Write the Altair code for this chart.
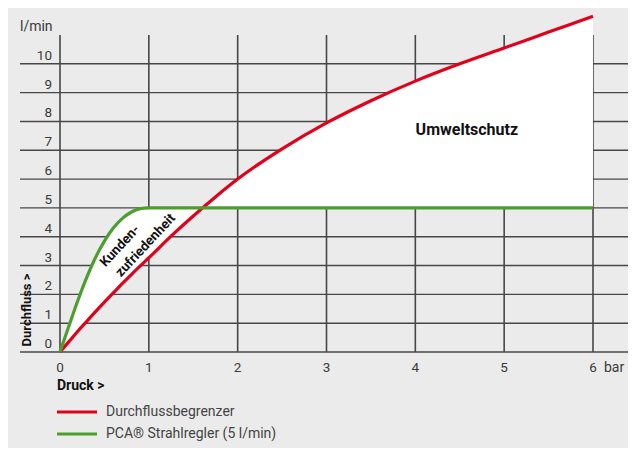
import altair as alt
import pandas as pd

# ---- data ----
PRESSURE = [0, 0.1, 0.2, 0.3, 0.4, 0.5, 0.6, 0.7, 0.8, 0.9, 1.0, 1.25, 1.5, 1.75,
            2.0, 2.5, 3.0, 3.5, 4.0, 4.5, 5.0, 5.5, 6.0]
RED_FLOW = [0, 0.36, 0.72, 1.06, 1.40, 1.73, 2.05, 2.37, 2.68, 2.98, 3.27, 4.02,
            4.72, 5.38, 6.0, 7.05, 7.95, 8.72, 9.4, 10.0, 10.55, 11.1, 11.65]
GREEN_FLOW = [0, 0.9, 1.78, 2.58, 3.28, 3.85, 4.3, 4.63, 4.85, 4.97, 5.0, 5.0,
              5.0, 5.0, 5.0, 5.0, 5.0, 5.0, 5.0, 5.0, 5.0, 5.0, 5.0]
X_TICKS = [0, 1, 2, 3, 4, 5, 6]
Y_TICKS = [0, 1, 2, 3, 4, 5, 6, 7, 8, 9, 10]
SERIES = ["Durchflussbegrenzer", "PCA® Strahlregler (5 l/min)"]
COLORS = ["#e2001a", "#4c9f2f"]

FONT = "Roboto"
GRID = "#474747"

df = pd.DataFrame({"p": PRESSURE, "red": RED_FLOW, "green": GREEN_FLOW})
long = pd.concat([
    pd.DataFrame({"p": PRESSURE, "flow": RED_FLOW, "series": SERIES[0]}),
    pd.DataFrame({"p": PRESSURE, "flow": GREEN_FLOW, "series": SERIES[1]}),
])

xs = alt.Scale(domain=[0, 6])
ys = alt.Scale(domain=[0, 11])

hgrid = alt.Chart(pd.DataFrame({"v": Y_TICKS})).mark_rule(color=GRID, strokeWidth=1.4).encode(
    y=alt.Y("v:Q", scale=ys, axis=None), x=alt.value(-40), x2=alt.value(568))
vgrid = alt.Chart(pd.DataFrame({"v": X_TICKS})).mark_rule(color=GRID, strokeWidth=1.6).encode(
    x=alt.X("v:Q", scale=xs, axis=None), y=alt.value(0), y2=alt.value(317))

area = alt.Chart(df).mark_area(color="white", opacity=1, interpolate="monotone").encode(
    x=alt.X("p:Q", scale=xs, axis=None),
    y=alt.Y("red:Q", scale=ys, axis=None),
    y2="green:Q")

lines = alt.Chart(long).mark_line(strokeWidth=3.2, interpolate="monotone").encode(
    x=alt.X("p:Q", scale=xs, axis=None),
    y=alt.Y("flow:Q", scale=ys, axis=None),
    color=alt.Color("series:N", scale=alt.Scale(domain=SERIES, range=COLORS), legend=None),
    detail="series:N")

ylab = alt.Chart(pd.DataFrame({"v": Y_TICKS})).mark_text(
    font=FONT, fontSize=13.5, color="#3a3a3a", align="right", baseline="middle", dy=-8).encode(
    y=alt.Y("v:Q", scale=ys, axis=None), x=alt.value(-8), text="v:Q")
xlab = alt.Chart(pd.DataFrame({"v": X_TICKS})).mark_text(
    font=FONT, fontSize=13.5, color="#3a3a3a", align="center", baseline="middle").encode(
    x=alt.X("v:Q", scale=xs, axis=None), y=alt.value(333), text="v:Q")

def label(txt, x, y, **kw):
    return alt.Chart(pd.DataFrame({"t": [txt]})).mark_text(font=FONT, **kw).encode(
        x=x, y=y, text="t:N")

unit_y = label("l/min", alt.value(-40), alt.value(-8), fontSize=14, color="#3a3a3a",
               align="left", baseline="middle")
unit_x = label("bar", alt.value(544), alt.value(333), fontSize=14, color="#3a3a3a",
               align="left", baseline="middle")
druck = label("Druck >", alt.value(-3), alt.value(351), fontSize=14, fontWeight="bold",
              color="#111111", align="left", baseline="middle")
durch = label("Durchfluss >", alt.value(-33), alt.value(275), fontSize=13, fontWeight="bold",
              color="#111111", align="center", baseline="middle", angle=270)

ann = pd.DataFrame({"t": ["Umweltschutz"], "p": [4.58], "f": [7.7]})
umwelt = alt.Chart(ann).mark_text(font=FONT, fontSize=16, fontWeight="bold", color="#111111",
                                  align="center", baseline="middle").encode(
    x=alt.X("p:Q", scale=xs, axis=None), y=alt.Y("f:Q", scale=ys, axis=None), text="t:N")

kd = pd.DataFrame({"t": ["Kunden-", "zufriedenheit"], "p": [0.675, 0.963], "f": [3.68, 3.70]})
kunden = alt.Chart(kd).mark_text(font=FONT, fontSize=13.5, fontWeight="bold", color="#111111",
                                 align="center", baseline="middle", angle=313).encode(
    x=alt.X("p:Q", scale=xs, axis=None), y=alt.Y("f:Q", scale=ys, axis=None), text="t:N")

leg = pd.DataFrame({"series": SERIES, "ly": [377, 399]})
leg_lines = alt.Chart(leg).mark_rule(strokeWidth=3.2).encode(
    x=alt.value(-3), x2=alt.value(37), y=alt.Y("ly:Q", scale=None),
    color=alt.Color("series:N", scale=alt.Scale(domain=SERIES, range=COLORS), legend=None))
leg_text = alt.Chart(leg).mark_text(font=FONT, fontSize=14, color="#444444", align="left",
                                    baseline="middle").encode(
    x=alt.value(46), y=alt.Y("ly:Q", scale=None), text="series:N")

chart = alt.layer(hgrid, vgrid, area, lines, ylab, xlab, unit_y, unit_x, druck, durch,
                  umwelt, kunden, leg_lines, leg_text).resolve_scale(color="shared").properties(
    width=533, height=317,
    padding={"left": 52, "top": 27, "right": 35, "bottom": 96},
    autosize=alt.AutoSizeParams(type="none"),
    background="#ebebeb",
).configure_view(stroke=None)

chart.save("out.html", embed_options={"renderer": "svg", "actions": False})
